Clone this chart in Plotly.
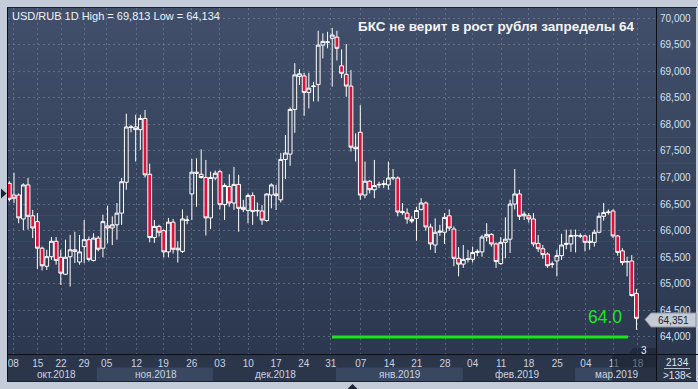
import plotly.graph_objects as go

# ---------------- data ----------------
opens = [66.89, 66.67, 66.67, 66.22, 66.86, 66.28, 66.17, 65.67, 65.33, 65.51,
         65.80, 65.50, 65.18, 65.51, 65.64, 65.41, 65.70, 65.83, 65.44, 65.86,
         65.67, 66.09, 66.05, 66.11, 66.33, 66.91, 67.94, 67.95, 67.90, 68.11,
         67.06, 65.87, 66.08, 66.00, 65.60, 66.16, 65.67, 65.61, 66.19, 66.69,
         67.10, 67.06, 67.00, 66.24, 66.99, 67.11, 66.49, 66.83, 66.52, 66.87,
         66.44, 66.38, 66.66, 66.37, 66.37, 66.19, 66.67, 66.69, 66.58, 67.34,
         67.44, 68.28, 68.90, 68.91, 68.60, 68.71, 68.75, 69.49, 69.54, 69.62,
         69.64, 69.10, 68.94, 68.72, 67.57, 67.85, 66.67, 66.93, 66.77, 66.86,
         66.87, 66.86, 66.99, 66.99, 66.36, 66.33, 66.21, 66.23, 66.40, 66.52,
         66.07, 65.73, 65.97, 65.97, 66.28, 66.03, 65.48, 65.37, 65.46, 65.46,
         65.59, 65.60, 65.88, 65.93, 65.75, 65.38, 65.78, 65.84, 66.50, 66.69,
         66.28, 66.28, 66.22, 65.76, 65.66, 65.56, 65.37, 65.43, 65.53, 65.74,
         65.75, 65.90, 65.90, 65.90, 65.80, 65.78, 65.97, 66.27, 66.34, 66.37,
         65.90, 65.62, 65.41, 65.43, 64.82]
highs = [66.93, 67.09, 66.70, 66.89, 66.99, 66.39, 66.33, 65.70, 65.64, 65.88,
         65.88, 65.64, 65.83, 65.92, 65.98, 65.92, 66.20, 65.89, 65.95, 65.90,
         66.30, 66.47, 66.27, 66.52, 66.99, 68.20, 67.99, 68.18, 68.18, 68.27,
         67.26, 66.20, 66.11, 66.02, 66.24, 66.22, 65.80, 66.40, 66.28, 67.35,
         67.36, 67.53, 67.33, 67.11, 67.13, 67.14, 66.89, 67.06, 67.20, 67.05,
         66.58, 66.70, 66.72, 66.53, 66.48, 66.70, 66.89, 66.86, 67.46, 67.80,
         68.32, 69.15, 69.04, 68.97, 68.97, 68.80, 69.76, 69.71, 69.74, 69.813,
         69.76, 69.41, 69.51, 69.02, 67.83, 68.36, 67.30, 66.95, 67.33, 66.92,
         66.95, 67.30, 67.16, 67.02, 66.52, 66.42, 66.27, 66.45, 66.61, 66.55,
         66.13, 66.23, 66.11, 66.33, 66.40, 66.08, 65.69, 65.73, 65.64, 65.70,
         65.65, 65.92, 66.14, 65.95, 65.78, 65.88, 66.25, 66.58, 67.16, 66.77,
         66.36, 66.33, 66.33, 65.92, 65.73, 65.59, 65.42, 65.64, 65.94, 66.02,
         66.02, 66.02, 65.95, 65.92, 65.92, 66.02, 66.34, 66.52, 66.40, 66.40,
         65.92, 65.67, 65.51, 65.54, 64.90]
lows = [66.55, 66.52, 66.14, 66.01, 66.02, 65.86, 65.28, 65.25, 65.26, 65.45,
        65.36, 64.98, 65.17, 64.95, 65.39, 65.36, 65.39, 65.42, 65.42, 65.61,
        65.50, 65.76, 65.73, 65.83, 66.11, 66.77, 67.85, 67.30, 67.52, 67.00,
        65.78, 65.77, 65.89, 65.50, 65.50, 65.57, 65.40, 65.58, 66.12, 66.20,
        66.45, 66.98, 65.91, 66.03, 66.95, 66.40, 66.20, 66.45, 66.39, 65.98,
        66.35, 66.14, 66.11, 66.27, 66.11, 66.17, 66.42, 66.39, 66.53, 66.97,
        67.22, 67.84, 68.74, 68.16, 68.30, 68.43, 68.43, 69.24, 69.43, 68.71,
        69.20, 68.87, 68.52, 67.49, 67.30, 66.58, 66.61, 66.70, 66.61, 66.80,
        66.80, 66.77, 66.95, 66.27, 66.30, 66.13, 66.14, 65.81, 66.38, 66.00,
        65.64, 65.58, 65.90, 65.75, 66.00, 65.33, 65.14, 65.30, 65.40, 65.40,
        65.52, 65.51, 65.80, 65.70, 65.30, 65.36, 65.48, 65.58, 66.40, 66.20,
        66.20, 66.15, 65.70, 65.60, 65.47, 65.30, 65.30, 65.14, 65.45, 65.65,
        65.60, 65.59, 65.86, 65.61, 65.64, 65.70, 65.95, 66.19, 66.30, 65.86,
        65.53, 65.35, 65.14, 64.76, 64.134]
closes = [66.59, 66.61, 66.24, 66.86, 66.27, 66.05, 65.67, 65.34, 65.51, 65.80,
          65.44, 65.20, 65.50, 65.64, 65.61, 65.60, 65.83, 65.46, 65.86, 65.65,
          66.17, 66.05, 66.11, 66.33, 66.92, 67.95, 67.95, 67.90, 68.11, 67.05,
          65.87, 66.08, 65.97, 65.60, 66.16, 65.65, 65.64, 66.22, 66.20, 67.10,
          67.08, 67.00, 66.24, 67.00, 67.08, 66.49, 66.85, 66.52, 66.87, 66.42,
          66.40, 66.66, 66.36, 66.38, 66.20, 66.69, 66.86, 66.66, 67.34, 67.46,
          68.28, 68.93, 68.95, 68.60, 68.68, 68.72, 69.49, 69.56, 69.55, 69.68,
          69.43, 68.96, 68.72, 67.57, 67.54, 66.67, 66.93, 66.77, 66.85, 66.87,
          66.88, 66.99, 67.00, 66.35, 66.34, 66.22, 66.18, 66.38, 66.52, 66.07,
          65.75, 65.97, 65.99, 66.25, 66.05, 65.48, 65.37, 65.46, 65.47, 65.59,
          65.61, 65.88, 65.93, 65.75, 65.42, 65.78, 65.84, 66.50, 66.69, 66.27,
          66.31, 66.22, 65.75, 65.66, 65.55, 65.34, 65.37, 65.53, 65.73, 65.76,
          65.91, 65.91, 65.90, 65.78, 65.78, 65.97, 66.27, 66.34, 66.35, 65.90,
          65.59, 65.40, 65.42, 64.78, 64.351]
bars = list(range(len(closes)))

week_labels = ["08", "15", "22", "29", "05", "12", "19", "26", "03", "10", "17", "24",
               "31", "07", "14", "21", "28", "04", "11", "18", "25", "04", "11", "18"]
week_pos = [0.85, 6.07, 11.05, 15.96, 20.8, 27.2, 32.9, 39.0, 45.0, 51.07, 57.0, 62.9,
            68.7, 75.1, 81.2, 87.05, 93.1, 99.0, 105.1, 111.0, 117.1, 123.2, 129.2, 134.3]
month_labels = ["окт.2018", "ноя.2018", "дек.2018", "янв.2019", "фев.2019", "мар.2019"]
month_centers = [10.13, 31.35, 56.84, 83.48, 108.5, 129.8]
month_bounds = [-0.28, 18.7, 43.5, 69.8, 96.9, 120.9, 138.18]

price_ticks = [64.0, 64.5, 65.0, 65.5, 66.0, 66.5, 67.0, 67.5, 68.0, 68.5, 69.0, 69.5, 70.0]
price_tick_labels = ["64,000", "64,500", "65,000", "65,500", "66,000", "66,500", "67,000",
                     "67,500", "68,000", "68,500", "69,000", "69,500", "70,000"]

level_x = [68.95, 132.2]
level_y = [64.0, 64.0]
level_label = "64.0"

header = "USD/RUB 1D High = 69,813 Low = 64,134"
title = "БКС не верит в рост рубля запределы 64"
last_price_label = "64,351"

# ---------------- layout helpers ----------------
W, H = 698, 389
ML, MR, MT, MB = 8, 42, 8, 35
PW, PH = W - ML - MR, H - MT - MB
FONT = "Liberation Sans"


def PX(px):
    return (px - ML) / PW


def PY(py):
    return (H - MB - py) / PH


fig = go.Figure()

fig.add_trace(go.Candlestick(
    x=bars, open=opens, high=highs, low=lows, close=closes,
    increasing=dict(line=dict(color="#ffffff", width=1), fillcolor="rgba(0,0,0,0)"),
    decreasing=dict(line=dict(color="#ffffff", width=1), fillcolor="#dc1238"),
    whiskerwidth=0, hoverinfo="skip", showlegend=False,
))

fig.add_trace(go.Scatter(
    x=level_x, y=level_y, mode="lines",
    line=dict(color="#19e619", width=3), hoverinfo="skip", showlegend=False,
))

shapes = []
# dark panel background (gradient on the chart part)
top_c = (65, 79, 106)
bot_c = (44, 56, 80)
N = 40
y0, y1 = 7, 354
for i in range(N):
    t = i / (N - 1)
    c = tuple(int(round(top_c[k] + (bot_c[k] - top_c[k]) * t)) for k in range(3))
    ya = y0 + (y1 - y0) * i / N
    yb = y0 + (y1 - y0) * (i + 1) / N + 0.6
    shapes.append(dict(type="rect", xref="paper", yref="paper", layer="below",
                       x0=PX(7), x1=PX(696), y0=PY(ya), y1=PY(min(yb, y1)),
                       line=dict(width=0), fillcolor="rgb(%d,%d,%d)" % c))
# axis area
shapes.append(dict(type="rect", xref="paper", yref="paper", layer="below",
                   x0=PX(7), x1=PX(696), y0=PY(382), y1=PY(354),
                   line=dict(width=0), fillcolor="#2b364b"))
# month bands (alternating shading)
for i in range(len(month_labels)):
    if i % 2 == 1:
        shapes.append(dict(type="rect", xref="x", yref="paper", layer="below",
                           x0=month_bounds[i], x1=month_bounds[i + 1],
                           y0=PY(381), y1=PY(367.5),
                           line=dict(width=0), fillcolor="#3a4760"))
# borders / separators
shapes.append(dict(type="line", xref="paper", yref="paper", x0=PX(7), x1=PX(698),
                   y0=PY(354.5), y1=PY(354.5), line=dict(color="#0b0f18", width=1)))
shapes.append(dict(type="line", xref="paper", yref="paper", x0=PX(656.5), x1=PX(656.5),
                   y0=PY(7), y1=PY(382), line=dict(color="#0b0f18", width=1)))
shapes.append(dict(type="line", xref="paper", yref="paper", x0=PX(7.5), x1=PX(7.5),
                   y0=PY(7), y1=PY(382), line=dict(color="#0b0f18", width=1)))
shapes.append(dict(type="line", xref="paper", yref="paper", x0=PX(7), x1=PX(697),
                   y0=PY(7.5), y1=PY(7.5), line=dict(color="#1a2130", width=1)))
shapes.append(dict(type="line", xref="paper", yref="paper", x0=PX(7), x1=PX(697),
                   y0=PY(381.5), y1=PY(381.5), line=dict(color="#1a2130", width=1)))
# scroll overlay at the bottom right
shapes.append(dict(type="path", xref="paper", yref="paper",
                   path="M %f,%f L %f,%f L %f,%f L %f,%f L %f,%f L %f,%f Z" % (
                       PX(612), PY(355), PX(628), PY(355), PX(633), PY(348),
                       PX(656), PY(348), PX(656), PY(381), PX(612), PY(381)),
                   fillcolor="rgba(25,32,46,0.55)", line=dict(width=0)))
# bottom-right box separator
shapes.append(dict(type="line", xref="paper", yref="paper", x0=PX(664), x1=PX(690),
                   y0=PY(368.5), y1=PY(368.5), line=dict(color="#b8c2d0", width=1)))
# last price tag
shapes.append(dict(type="path", xref="paper", yref="paper",
                   path="M %f,%f L %f,%f L %f,%f L %f,%f L %f,%f Z" % (
                       PX(645), PY(319.5), PX(651), PY(313), PX(696), PY(313),
                       PX(696), PY(327), PX(651), PY(327)),
                   fillcolor="#c6cbd3", line=dict(color="#8a93a0", width=1)))
# small markers on the outer frame
shapes.append(dict(type="path", xref="paper", yref="paper",
                   path="M %f,%f L %f,%f L %f,%f Z" % (PX(1), PY(188.5), PX(6.5), PY(193.5),
                                                       PX(1), PY(198.5)),
                   fillcolor="#1c2433", line=dict(width=0)))
shapes.append(dict(type="path", xref="paper", yref="paper",
                   path="M %f,%f L %f,%f L %f,%f Z" % (PX(347.5), PY(389), PX(352.5), PY(384),
                                                       PX(357.5), PY(389)),
                   fillcolor="#1c2433", line=dict(width=0)))

annotations = []
annotations.append(dict(xref="paper", yref="paper", x=PX(10), y=PY(15.5), xanchor="left",
                        yanchor="middle", text=header, showarrow=False,
                        font=dict(family=FONT, size=11, color="#eef1f5")))
annotations.append(dict(xref="paper", yref="paper", x=PX(496), y=PY(27), xanchor="center",
                        yanchor="middle", text=title, showarrow=False,
                        font=dict(family=FONT, size=13.5, color="#f4f6f9", weight="bold")))
for lab, c in zip(month_labels, month_centers):
    annotations.append(dict(xref="x", yref="paper", x=c, y=PY(374), xanchor="center",
                            yanchor="middle", text=lab, showarrow=False,
                            font=dict(family=FONT, size=10, color="#c9d3e1")))
annotations.append(dict(xref="x", yref="y", x=127.2, y=64.374, xanchor="center",
                        yanchor="middle", text=level_label, showarrow=False,
                        font=dict(family=FONT, size=17.5, color="#1ee61e")))
annotations.append(dict(xref="paper", yref="paper", x=PX(673), y=PY(320), xanchor="center",
                        yanchor="middle", text=last_price_label, showarrow=False,
                        font=dict(family=FONT, size=10, color="#1b2230")))
annotations.append(dict(xref="paper", yref="paper", x=PX(644), y=PY(350), xanchor="center",
                        yanchor="middle", text="3", showarrow=False,
                        font=dict(family=FONT, size=10, color="#e8edf3")))
annotations.append(dict(xref="paper", yref="paper", x=PX(677), y=PY(362), xanchor="center",
                        yanchor="middle", text="2134", showarrow=False,
                        font=dict(family=FONT, size=10, color="#dfe5ee")))
annotations.append(dict(xref="paper", yref="paper", x=PX(677), y=PY(375), xanchor="center",
                        yanchor="middle", text=">138<", showarrow=False,
                        font=dict(family=FONT, size=10, color="#dfe5ee")))

grid_col = "rgba(125,140,168,0.55)"
fig.update_layout(
    width=W, height=H,
    margin=dict(l=ML, r=MR, t=MT, b=MB),
    paper_bgcolor="#c3ccd8",
    plot_bgcolor="rgba(0,0,0,0)",
    boxgap=0.15, boxgroupgap=0.05,
    shapes=shapes, annotations=annotations,
    xaxis=dict(range=[-0.28, 138.18], rangeslider=dict(visible=False),
               tickmode="array", tickvals=week_pos, ticktext=week_labels,
               tickfont=dict(family=FONT, size=10, color="#c9d3e1"),
               showgrid=True, gridcolor=grid_col, griddash="2px,3px", gridwidth=1,
               zeroline=False, showline=False, ticks="", ticklabelstandoff=2,
               fixedrange=True),
    yaxis=dict(range=[63.68, 70.188], side="right",
               tickmode="array", tickvals=price_ticks, ticktext=price_tick_labels,
               tickfont=dict(family=FONT, size=10, color="#d3e0f0"),
               showgrid=True, gridcolor=grid_col, griddash="2px,3px", gridwidth=1,
               zeroline=False, showline=False, ticks="", ticklabelstandoff=3,
               fixedrange=True),
    showlegend=False,
)

fig.write_html(
    "out.html",
    config={"displayModeBar": False},
    post_script="document.body.style.margin='0';document.body.style.overflow='hidden';",
)
